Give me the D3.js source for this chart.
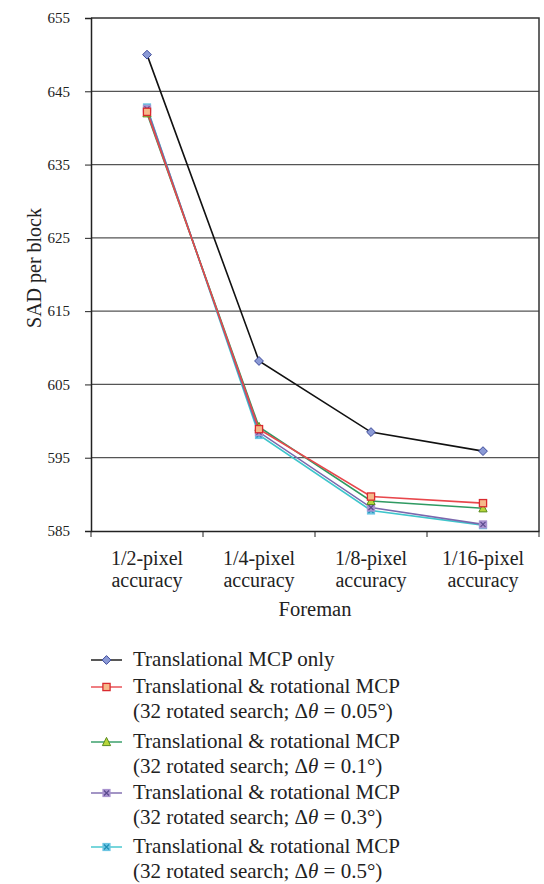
<!DOCTYPE html>
<html>
<head>
<meta charset="utf-8">
<script src="https://cdn.jsdelivr.net/npm/d3@7"></script>
</head>
<body style="margin:0; background:#fff">
<svg width="544" height="884"></svg>
<script>
// Data
const categories = ["1/2-pixel accuracy", "1/4-pixel accuracy", "1/8-pixel accuracy", "1/16-pixel accuracy"];
const yTicks = [585, 595, 605, 615, 625, 635, 645, 655];

const transOnly = [650.0, 608.2, 598.5, 595.9];
const rot005 = [642.2, 598.9, 589.7, 588.8];
const rot01 = [642.0, 599.2, 589.1, 588.1];
const rot03 = [642.6, 598.5, 588.2, 585.9];
const rot05 = [642.8, 598.1, 587.8, 585.8];

const seriesNames = [
  ["Translational MCP only"],
  ["Translational & rotational MCP", "0.05"],
  ["Translational & rotational MCP", "0.1"],
  ["Translational & rotational MCP", "0.3"],
  ["Translational & rotational MCP", "0.5"]
];

const series = [
  {values: transOnly, line: "#111", fill: "#8b9ad6", stroke: "#3d4a9a", shape: "diamond"},
  {values: rot005, line: "#e8474c", fill: "#f6b98a", stroke: "#d92a2f", shape: "square"},
  {values: rot01, line: "#2f9a62", fill: "#b7d63a", stroke: "#5a8a20", shape: "triangle"},
  {values: rot03, line: "#7b68ad", fill: "#a993cf", stroke: "#5a4a8d", shape: "xsquare"},
  {values: rot05, line: "#3ec5cc", fill: "#6cc5e3", stroke: "#1d8fb5", shape: "xsquare"}
];

const pArea = [91, 18, 539, 531];
const FONT = '"Liberation Serif"';

const svg = d3.select("svg");
const g = svg.append("g");

function txt(sel, size) {
  return sel.append("text")
    .style("font-family", FONT)
    .style("font-size", size)
    .style("fill", "#222");
}

const xScale = d3.scaleBand()
  .domain(categories)
  .range([pArea[0], pArea[2]]);

const yScale = d3.scaleLinear()
  .domain([585, 655])
  .range([pArea[3], pArea[1]]);

// grid lines
g.append("g")
  .selectAll("line")
  .data(yTicks.filter(t => t > 585 && t < 655))
  .enter().append("line")
  .attr("x1", pArea[0]).attr("x2", pArea[2])
  .attr("y1", d => yScale(d)).attr("y2", d => yScale(d))
  .attr("stroke", "#555")
  .attr("stroke-width", 1.3);

// frame
g.append("path")
  .attr("d", `M${pArea[0]},${pArea[1]}H${pArea[2]}V${pArea[3]}`)
  .attr("fill", "none")
  .attr("stroke", "#333")
  .attr("stroke-width", 1.5);

// y-axis
const yAxis = g.append("g")
  .attr("transform", `translate(${pArea[0]},0)`)
  .call(d3.axisLeft(yScale).tickValues(yTicks).tickSize(6).tickPadding(15));
yAxis.attr("font-family", null);
yAxis.select(".domain").attr("stroke", "#222").attr("stroke-width", 1.5);
yAxis.selectAll("line").attr("stroke", "#222");
yAxis.selectAll("text")
  .style("font-family", FONT)
  .style("font-size", "15px")
  .style("fill", "#222");

// x-axis, ticks sit on the category boundaries
const xAxis = g.append("g")
  .attr("transform", `translate(0,${pArea[3]})`)
  .call(d3.axisBottom(xScale).tickSize(0).tickFormat(""));
xAxis.select(".domain").attr("stroke", "#222").attr("stroke-width", 1.5);
const bounds = categories.map(c => xScale(c)).concat([pArea[2]]);
xAxis.selectAll(".bound")
  .data(bounds)
  .enter().append("line")
  .attr("x1", d => d).attr("x2", d => d)
  .attr("y1", 0).attr("y2", 6)
  .attr("stroke", "#222");

categories.forEach(c => {
  const cx = xScale(c) + xScale.bandwidth() / 2;
  const t = txt(g, "20px").attr("text-anchor", "middle");
  c.split(" ").forEach((w, i) => {
    t.append("tspan")
      .attr("x", cx)
      .attr("y", 565 + i * 22)
      .text(w);
  });
});

txt(g, "20.5px")
  .attr("text-anchor", "middle")
  .attr("x", (pArea[0] + pArea[2]) / 2)
  .attr("y", 616)
  .text("Foreman");

txt(g, "20px")
  .attr("text-anchor", "middle")
  .attr("transform", "rotate(-90)")
  .attr("x", -268)
  .attr("y", 41)
  .text("SAD per block");

// markers
function drawMarker(sel, s, x, y) {
  const r = 3.6;
  if (s.shape === "diamond") {
    sel.append("path")
      .attr("d", `M${x},${y - r - 0.8}L${x + r + 0.8},${y}L${x},${y + r + 0.8}L${x - r - 0.8},${y}Z`)
      .attr("fill", s.fill).attr("stroke", s.stroke).attr("stroke-width", 1);
  } else if (s.shape === "square") {
    sel.append("rect")
      .attr("x", x - r).attr("y", y - r).attr("width", 2 * r).attr("height", 2 * r)
      .attr("fill", s.fill).attr("stroke", s.stroke).attr("stroke-width", 1.3);
  } else if (s.shape === "triangle") {
    sel.append("path")
      .attr("d", `M${x},${y - r - 1}L${x + r + 0.5},${y + r}L${x - r - 0.5},${y + r}Z`)
      .attr("fill", s.fill).attr("stroke", s.stroke).attr("stroke-width", 1);
  } else {
    sel.append("rect")
      .attr("x", x - r - 0.5).attr("y", y - r - 0.5).attr("width", 2 * r + 1).attr("height", 2 * r + 1)
      .attr("fill", s.fill).attr("stroke", "none");
    sel.append("path")
      .attr("d", `M${x - 2.5},${y - 2.5}L${x + 2.5},${y + 2.5}M${x + 2.5},${y - 2.5}L${x - 2.5},${y + 2.5}`)
      .attr("stroke", s.stroke).attr("stroke-width", 1.2);
  }
}

const line = d3.line()
  .x((d, i) => xScale(categories[i]) + xScale.bandwidth() / 2)
  .y(d => yScale(d));

// draw the last series first so the black one sits on top
series.slice().reverse().forEach(s => {
  g.append("path")
    .datum(s.values)
    .attr("fill", "none")
    .attr("stroke", s.line)
    .attr("stroke-width", 1.6)
    .attr("d", line);
});
series.slice().reverse().forEach(s => {
  const mg = g.append("g");
  s.values.forEach((v, i) => {
    drawMarker(mg, s, xScale(categories[i]) + xScale.bandwidth() / 2, yScale(v));
  });
});

// legend
const legendRows = [660, 687, 742, 793, 847];
const legend = g.append("g");
series.forEach((s, i) => {
  const y = legendRows[i];
  legend.append("line")
    .attr("x1", 91).attr("x2", 122)
    .attr("y1", y).attr("y2", y)
    .attr("stroke", s.line).attr("stroke-width", 1.4);
  drawMarker(legend, s, 106.5, y);
  const name = seriesNames[i];
  txt(legend, "21px")
    .attr("x", 133).attr("y", y + 6)
    .text(name[0]);
  if (name.length > 1) {
    const t = txt(legend, "21px")
      .attr("x", 133).attr("y", y + 31);
    t.append("tspan").text("(32 rotated search; Δ");
    t.append("tspan").style("font-style", "italic").text("θ");
    t.append("tspan").text(` = ${name[1]}°)`);
  }
});
</script>
</body>
</html>
